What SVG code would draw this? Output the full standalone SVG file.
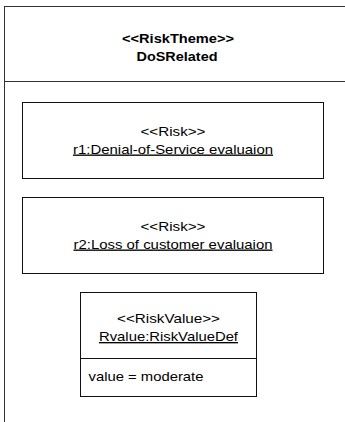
<svg xmlns="http://www.w3.org/2000/svg" width="345" height="422" viewBox="0 0 345 422">
<style>
.box{fill:#fff;stroke:#111;stroke-width:1}
.outer{fill:#fff;stroke:#333;stroke-width:1}
.t{font-family:"Liberation Sans",Arial,sans-serif;font-size:13.5px;fill:#000}
.b{font-weight:bold}
.u{text-decoration:underline}
.c{text-anchor:middle}
</style>
<g id="theme">
<rect class="outer" x="4.5" y="6.5" width="360" height="430"/>
<line class="outer" x1="4.5" y1="81.5" x2="365" y2="81.5"/>
<text class="t b c" x="178" y="43" textLength="112" lengthAdjust="spacingAndGlyphs">&lt;&lt;RiskTheme&gt;&gt;</text>
<text class="t b c" x="177" y="61" textLength="81" lengthAdjust="spacingAndGlyphs">DoSRelated</text>
</g>
<g id="r1">
<rect class="box" x="22.5" y="102.5" width="301" height="76"/>
<text class="t c" x="173" y="136" textLength="65" lengthAdjust="spacingAndGlyphs">&lt;&lt;Risk&gt;&gt;</text>
<text class="t c u" x="173" y="153.5" textLength="200" lengthAdjust="spacingAndGlyphs">r1:Denial-of-Service evaluaion</text>
</g>
<g id="r2">
<rect class="box" x="22.5" y="197.5" width="301" height="76"/>
<text class="t c" x="173" y="231" textLength="65" lengthAdjust="spacingAndGlyphs">&lt;&lt;Risk&gt;&gt;</text>
<text class="t c u" x="173" y="248.5" textLength="199" lengthAdjust="spacingAndGlyphs">r2:Loss of customer evaluaion</text>
</g>
<g id="rvalue">
<rect class="box" x="80.5" y="292.5" width="176" height="104"/>
<line class="box" x1="80.5" y1="358.5" x2="256.5" y2="358.5"/>
<text class="t c" x="168.5" y="323" textLength="103" lengthAdjust="spacingAndGlyphs">&lt;&lt;RiskValue&gt;&gt;</text>
<text class="t c u" x="168.5" y="341" textLength="139" lengthAdjust="spacingAndGlyphs">Rvalue:RiskValueDef</text>
<text class="t" x="88.5" y="381" textLength="115" lengthAdjust="spacingAndGlyphs">value = moderate</text>
</g>
<g id="connectors"/>
</svg>
